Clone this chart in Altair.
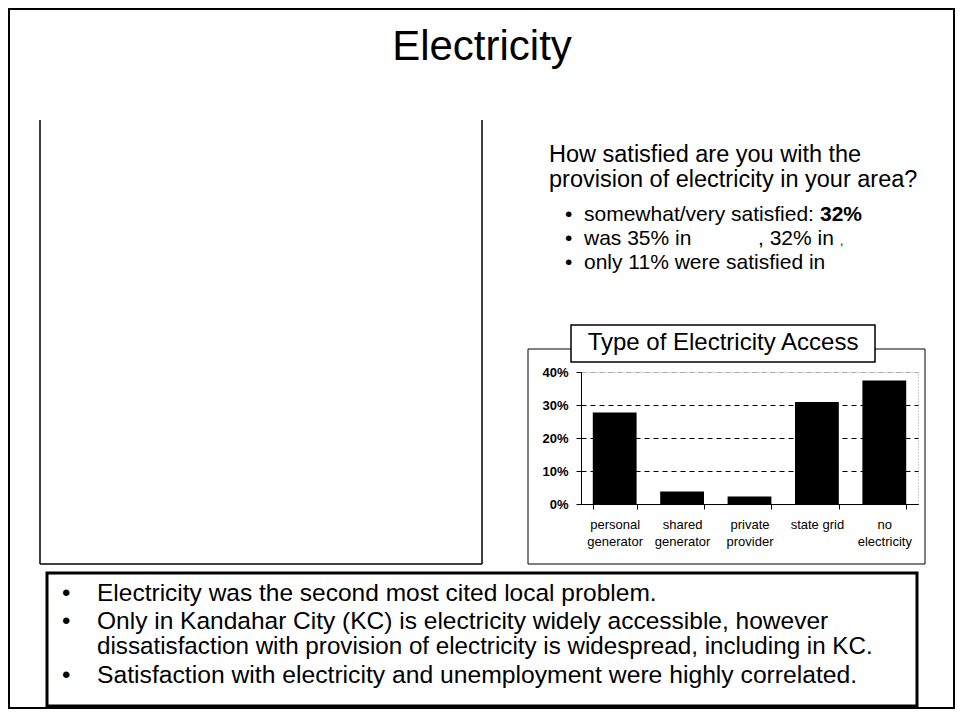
import altair as alt
import pandas as pd

# ---- data ----
categories = ["personal generator", "shared generator", "private provider", "state grid", "no electricity"]
shares = [27.7, 3.8, 2.3, 30.9, 37.4]
y_ticks = [0, 10, 20, 30, 40]

title_text = "Electricity"
question_lines = ["How satisfied are you with the", "provision of electricity in your area?"]
chart_title = "Type of Electricity Access"
bottom_lines = [
    "Electricity was the second most cited local problem.",
    "Only in Kandahar City (KC) is electricity widely accessible, however",
    "dissatisfaction with provision of electricity is widespread, including in KC.",
    "Satisfaction with electricity and unemployment were highly correlated.",
]

FONT = "Liberation Sans"
# plot-area origin in page pixels
OX, OY = 581, 372
PW, PH = 337, 132

one = alt.Data(values=[{"o": 1}])


def txt(s, px, py, size, weight="normal", align="left"):
    return alt.Chart(one).mark_text(
        text=s, align=align, baseline="alphabetic", font=FONT,
        fontSize=size, fontWeight=weight, color="black"
    ).encode(x=alt.value(px - OX), y=alt.value(py - OY))


def box(x1, y1, x2, y2, sw=1.0, fill="white", fo=0.0):
    return alt.Chart(one).mark_rect(
        fill=fill, fillOpacity=fo, stroke="black", strokeWidth=sw
    ).encode(x=alt.value(x1 - OX), x2=alt.value(x2 - OX),
             y=alt.value(y1 - OY), y2=alt.value(y2 - OY))


def line(x1, y1, x2, y2, sw=1.5):
    return alt.Chart(one).mark_rule(color="black", strokeWidth=sw).encode(
        x=alt.value(x1 - OX), x2=alt.value(x2 - OX),
        y=alt.value(y1 - OY), y2=alt.value(y2 - OY))


layers = []
# slide border
layers.append(box(9, 9, 954, 708, sw=2))
# title
layers.append(txt(title_text, 482, 60, 42, align="center"))
# left empty panel (open on top)
layers.append(line(40, 120, 40, 564))
layers.append(line(482, 120, 482, 564))
layers.append(line(40, 564, 482, 564))
# question
layers.append(txt(question_lines[0], 549, 162, 23.5))
layers.append(txt(question_lines[1], 549, 187, 23.5))
# bullets
for by in [221, 245, 269]:
    layers.append(txt("\u2022", 565, by, 21))
layers.append(txt("somewhat/very satisfied: ", 584, 221, 21))
layers.append(txt("32%", 820, 221, 21, weight="bold"))
layers.append(txt("was 35% in", 584, 245, 21))
layers.append(txt(", 32% in", 758, 245, 21))
layers.append(txt(",", 840, 245, 12))
layers.append(txt("only 11% were satisfied in", 584, 269, 21))
# chart frame
layers.append(box(528, 349, 925, 564, sw=1))
# bottom box
layers.append(box(47, 573, 917, 706, sw=3))
for by in [601, 629, 683]:
    layers.append(txt("\u2022", 62, by, 24))
layers.append(txt(bottom_lines[0], 97, 601, 24.5))
layers.append(txt(bottom_lines[1], 97, 629, 24.5))
layers.append(txt(bottom_lines[2], 97, 654, 24.2))
layers.append(txt(bottom_lines[3], 97, 683, 24.7))

# bar chart
df = pd.DataFrame({"category": categories, "share": shares})
bars = alt.Chart(df).mark_bar(color="black").encode(
    x=alt.X(
        "category:N", sort=categories,
        scale=alt.Scale(paddingInner=0.35, paddingOuter=0.175),
        axis=alt.Axis(
            title=None, labelAngle=0, labelFont=FONT, labelFontSize=13,
            labelColor="black", labelLineHeight=17, labelPadding=9,
            labelExpr="datum.label == 'state grid' ? datum.label : split(datum.label, ' ')",
            tickBand="extent", tickSize=5, tickColor="black", domainColor="black",
            labelBaseline="top", grid=False,
        ),
    ),
    y=alt.Y(
        "share:Q",
        scale=alt.Scale(domain=[0, 40], nice=False),
        axis=alt.Axis(
            title=None, values=y_ticks, labelExpr="datum.value + '%'",
            labelFont=FONT, labelFontSize=13, labelFontWeight="bold",
            labelColor="black", labelPadding=8, tickSize=5, tickColor="black",
            domainColor="black", grid=True,
            gridColor={"condition": {"test": "datum.value >= 40", "value": "#aaaaaa"}, "value": "black"},
            gridDash=[5, 4], gridWidth=1,
        ),
    ),
)

# chart title box drawn above the chart frame
title_box = box(571, 325, 875, 362, sw=1.5, fill="white", fo=1.0)
title_txt = txt(chart_title, 723, 350, 24, align="center")

chart = alt.layer(*layers, bars, title_box, title_txt).properties(
    width=PW, height=PH,
    autosize=alt.AutoSizeParams(type="none"),
    padding={"left": OX - 8, "top": OY - 8, "right": 955 - (OX + PW), "bottom": 710 - (OY + PH)},
    background="white",
).configure_view(stroke="#999999", strokeDash=[1, 2], strokeWidth=1)

chart.save("out.html", embed_options={"renderer": "svg", "actions": False})
